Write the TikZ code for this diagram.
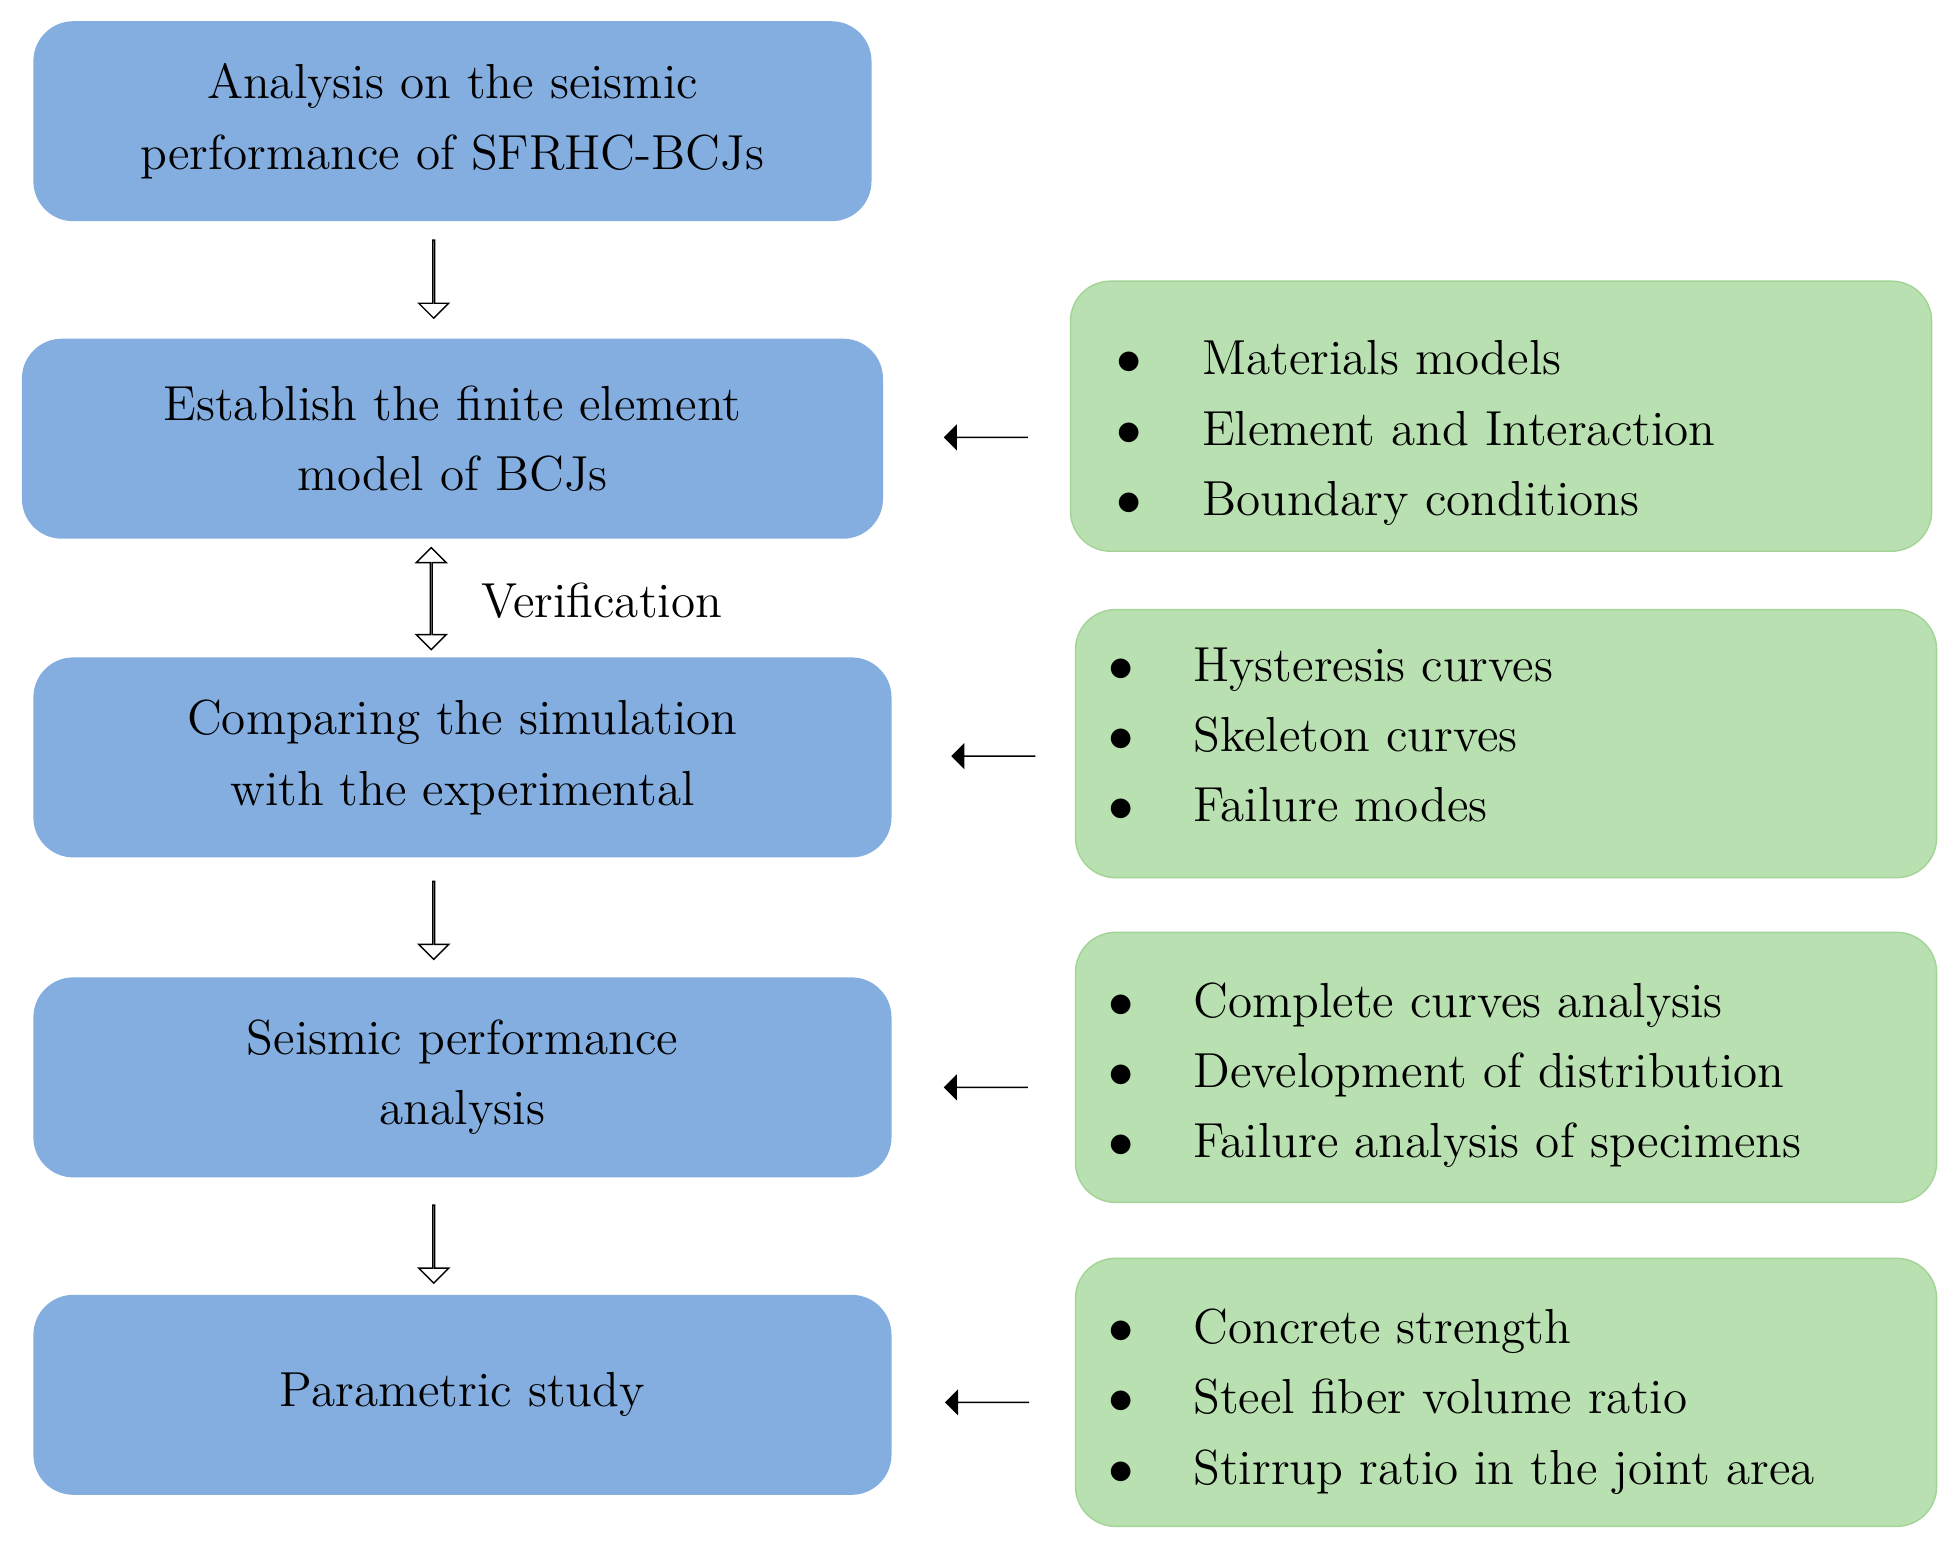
\documentclass[tikz,border=0pt]{standalone}
\usepackage{array}
\usetikzlibrary{shapes.arrows}
\definecolor{stepblue}{HTML}{84AEE0}
\definecolor{notegreen}{HTML}{B9E0B0}
\definecolor{noteedge}{HTML}{A3D396}
\newcommand{\blist}[3]{\begin{tabular}{@{}c@{\hspace{0.6cm}}l@{}}
\Large$\bullet$ & #1\\ \Large$\bullet$ & #2\\ \Large$\bullet$ & #3\end{tabular}}
\tikzset{
  stage/.style={draw=none,fill=stepblue,rounded corners=0.4cm,align=center,
    font=\fontsize{14}{20}\selectfont},
  note/.style={draw=noteedge,fill=notegreen,rounded corners=0.4cm},
  notetext/.style={anchor=west,inner sep=0pt,font=\fontsize{14}{20}\selectfont},
  hollow/.style={single arrow,draw,fill=white,thin,rotate=-90,minimum height=0.78cm,
    single arrow head extend=0.1cm,minimum width=0.3cm,inner sep=0pt},
  push/.style={single arrow,fill=black,shape border rotate=180,minimum height=0.84cm,
    single arrow head extend=0.12cm,minimum width=0.26cm,inner sep=0pt}
}
\begin{document}
\begin{tikzpicture}[x=0.0125cm,y=-0.0125cm]
\useasboundingbox (0,0) rectangle (1565,1253);
% left column
\node[stage,minimum width=8.38cm,minimum height=2cm] (s1) at (362,97) {Analysis on the seismic\\performance of SFRHC-BCJs};
\node[stage,minimum width=8.61cm,minimum height=2cm] (s2) at (362,351) {Establish the finite element\\model of BCJs};
\node[stage,minimum width=8.58cm,minimum height=2cm] (s3) at (370,606) {Comparing the simulation\\with the experimental};
\node[stage,minimum width=8.58cm,minimum height=2cm] (s4) at (370,862) {Seismic performance\\analysis};
\node[stage,minimum width=8.58cm,minimum height=2cm] (s5) at (370,1116) {Parametric study};
% flow arrows
\node[hollow] (a1) at (347,223) {};
\node[double arrow,draw,fill=white,thin,rotate=90,minimum height=1.02cm,
  double arrow head extend=0.1cm,minimum width=0.3cm,inner sep=0pt] (a2) at (345,479) {};
\node[anchor=west,font=\fontsize{14}{20}\selectfont] (ver) at (375,481) {Verification};
\node[hollow] (a3) at (347,736) {};
\node[hollow] (a4) at (347,995) {};
% right column
\node[note,minimum width=8.61cm,minimum height=2.7cm] (n1) at (1201,333) {};
\node[note,minimum width=8.61cm,minimum height=2.68cm] (n2) at (1205,595) {};
\node[note,minimum width=8.61cm,minimum height=2.7cm] (n3) at (1205,854) {};
\node[note,minimum width=8.61cm,minimum height=2.68cm] (n4) at (1205,1114) {};
\node[notetext] (l1) at (893,345) {\blist{Materials models}{Element and Interaction}{Boundary conditions}};
\node[notetext] (l2) at (886,590) {\blist{Hysteresis curves}{Skeleton curves}{Failure modes}};
\node[notetext] (l3) at (886,859) {\blist{Complete curves analysis}{Development of distribution}{Failure analysis of specimens}};
\node[notetext] (l4) at (886,1120) {\blist{Concrete strength}{Steel fiber volume ratio}{Stirrup ratio in the joint area}};
% input arrows
\node[push] (p1) at (789,350) {};
\node[push] (p2) at (795,605) {};
\node[push] (p3) at (789,870) {};
\node[push] (p4) at (790,1122) {};
\end{tikzpicture}
\end{document}
